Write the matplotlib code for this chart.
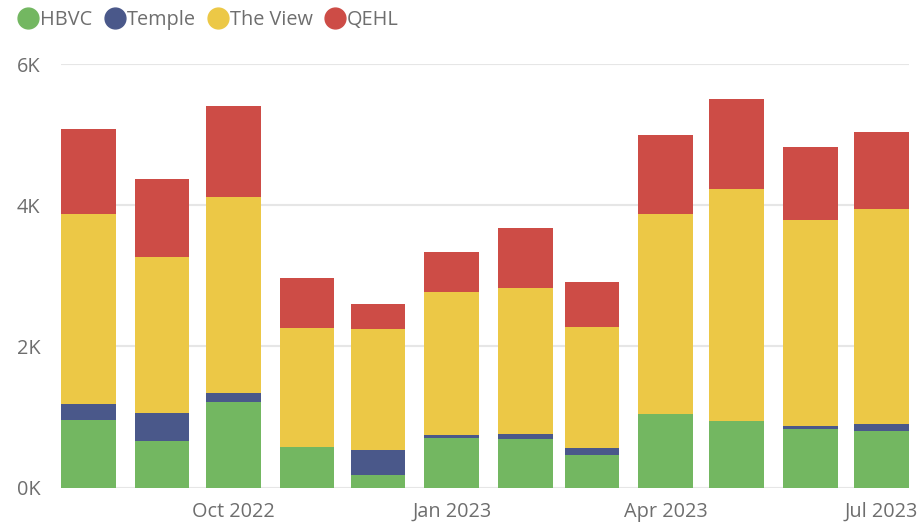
import numpy as np
import pandas as pd
import matplotlib.pyplot as plt
import matplotlib.dates as mdates
from matplotlib.lines import Line2D
from matplotlib.ticker import FuncFormatter

plt.rcParams['font.family'] = ['Open Sans', 'DejaVu Sans']

months = pd.date_range("2022-08-01", "2023-07-01", freq="MS")
hbvc = [960, 660, 1210, 576, 180, 700, 690, 470, 1040, 940, 830, 800]
temple = [225, 400, 135, 0, 355, 40, 70, 90, 0, 0, 40, 100]
the_view = [2685, 2210, 2775, 1684, 1715, 2030, 2070, 1720, 2830, 3290, 2920, 3040]
qehl = [1210, 1100, 1290, 710, 350, 570, 850, 630, 1130, 1270, 1030, 1090]

series = [("HBVC", hbvc, "#73B761"),
          ("Temple", temple, "#4A588A"),
          ("The View", the_view, "#ECC846"),
          ("QEHL", qehl, "#CD4C46")]

fig = plt.figure(figsize=(9.2, 5.23), dpi=100)
ax = fig.add_axes([61 / 920, 35.3 / 523, 848 / 920, 423.7 / 523])

x = mdates.date2num(months)
bottom = np.zeros(len(x))
for name, vals, col in series:
    vals = np.array(vals, dtype=float)
    ax.bar(x, vals, width=23, bottom=bottom, color=col, label=name, zorder=2)
    bottom += vals

ax.set_xlim(x[0] - 11.5, x[-1] + 11.5)
ax.set_ylim(0, 6000)
ax.set_yticks([0, 2000, 4000, 6000])
ax.yaxis.set_major_formatter(FuncFormatter(lambda v, p: f"{int(v / 1000)}K"))
ticks = pd.to_datetime(["2022-10-01", "2023-01-01", "2023-04-01", "2023-07-01"])
ax.set_xticks(mdates.date2num(ticks))
ax.set_xticklabels([t.strftime("%b %Y") for t in ticks])

ax.grid(axis="y", color="#E6E6E6", linewidth=1.5, zorder=0)
for s in ax.spines.values():
    s.set_visible(False)
ax.tick_params(axis="both", length=0, labelsize=14.3, labelcolor="#6E6E6E")
ax.tick_params(axis="y", pad=15)
ax.tick_params(axis="x", pad=10)

handles = [Line2D([], [], marker="o", linestyle="none", markersize=15,
                  markerfacecolor=c, markeredgecolor=c) for _, _, c in series]
fig.legend(handles, [n for n, _, _ in series], loc="upper left",
           bbox_to_anchor=(0.0005, 1.016), ncol=4, frameon=False, fontsize=14.3,
           handletextpad=0.1, columnspacing=0.62, labelcolor="#6E6E6E",
           handlelength=1.0)

fig.savefig("out.png", dpi=100)
